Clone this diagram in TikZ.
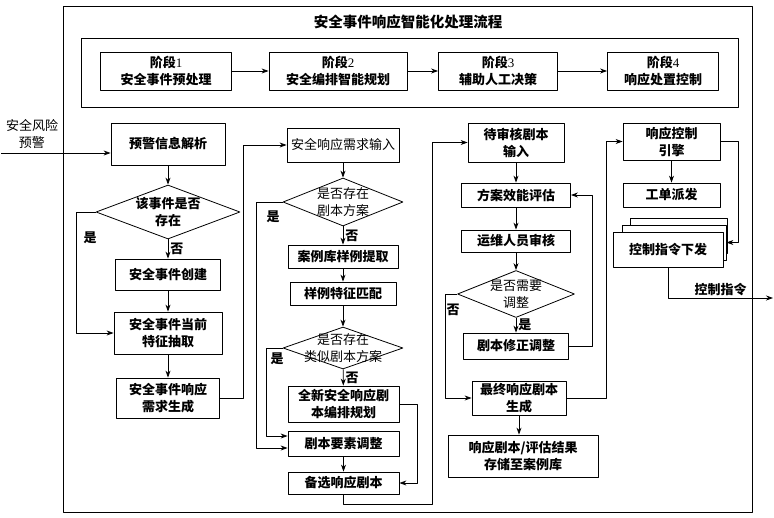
\documentclass[tikz,border=0pt]{standalone}
\usepackage{fontspec}
\setmainfont{Noto Sans CJK SC}
\newfontfamily\latin{Liberation Serif}
\usetikzlibrary{shapes.geometric,arrows.meta}
\begin{document}
\begin{tikzpicture}[x=1pt,y=-1pt,line join=round,>={Stealth[length=7pt,width=5pt]},line width=0.8pt]
 \tikzset{box/.style={draw,fill=white,align=center,inner sep=1pt,font=\fontsize{13pt}{17pt}\selectfont\bfseries},
  plain/.style={box,font=\fontsize{13pt}{17pt}\selectfont},
  dia/.style={diamond,draw,fill=white,inner sep=0pt},
  txt/.style={align=center,font=\fontsize{13pt}{17pt}\selectfont},
  yn/.style={font=\fontsize{13pt}{15pt}\selectfont\bfseries,inner sep=2pt}}
 \useasboundingbox (0,0) rectangle (774,517);
 \draw (63,6) rectangle (752,512);
 \draw (81,38) rectangle (738,107);
 \node[font=\fontsize{14.5pt}{17pt}\selectfont\bfseries] (title) at (408,22) {安全事件响应智能化处理流程};
 % stages
 \node[box,minimum width=131pt,minimum height=38pt] (s1) at (166,71) {阶段{\latin\mdseries 1}\\安全事件预处理};
 \node[box,minimum width=138pt,minimum height=38pt] (s2) at (338,71) {阶段{\latin\mdseries 2}\\安全编排智能规划};
 \node[box,minimum width=119pt,minimum height=38pt] (s3) at (498,71) {阶段{\latin\mdseries 3}\\辅助人工决策};
 \node[box,minimum width=111pt,minimum height=38pt] (s4) at (663,71) {阶段{\latin\mdseries 4}\\响应处置控制};
 \draw[->] (s1) -- (s2);
 \draw[->] (s2) -- (s3);
 \draw[->] (s3) -- (s4);
 % stage 1
 \node[txt] (risk) at (32,134) {安全风险\\预警};
 \coordinate (in) at (1,153);
 \node[box,minimum width=114pt,minimum height=42pt] (warn) at (168,144) {预警信息解析};
 \node[dia,minimum width=144pt,minimum height=54pt,label={[txt,font=\fontsize{13pt}{17pt}\selectfont\bfseries]center:{该事件是否\\存在}}] (q1) at (168,212) {};
 \node[box,minimum width=105pt,minimum height=31pt] (create) at (168,274.5) {安全事件创建};
 \node[box,minimum width=108pt,minimum height=42pt] (feat) at (168,333) {安全事件当前\\特征抽取};
 \node[box,minimum width=103pt,minimum height=40pt] (need) at (168,398) {安全事件响应\\需求生成};
 \node[yn] (yes1) at (90,238) {是};
 \draw[->] (in) -- (in -| warn.west);
 \draw[->] (warn) -- (q1);
 \draw[->] (q1) -- (create) node[yn,midway,right] {否};
 \draw[->] (create) -- (feat);
 \draw[->] (q1.west) -- ++(-19,0) |- (feat);
 \draw[->] (feat) -- (need);
 % stage 2
 \node[plain,minimum width=112pt,minimum height=34pt] (input) at (343,145) {安全响应需求输入};
 \node[dia,minimum width=120pt,minimum height=48pt,label={[txt]center:{是否存在\\剧本方案}}] (q2) at (343,202) {};
 \node[box,minimum width=110pt,minimum height=23pt] (fetch) at (343,256.5) {案例库样例提取};
 \node[box,minimum width=106pt,minimum height=23pt] (match) at (343,293.5) {样例特征匹配};
 \node[dia,minimum width=120pt,minimum height=42pt,label={[txt]center:{是否存在\\类似剧本方案}}] (q3) at (343,348) {};
 \node[box,minimum width=111pt,minimum height=36pt] (plan) at (343.5,404) {全新安全响应剧\\本编排规划};
 \node[box,minimum width=111pt,minimum height=25pt] (adjust) at (343.5,443.5) {剧本要素调整};
 \node[box,minimum width=111pt,minimum height=22pt] (cand) at (343.5,483) {备选响应剧本};
 \node[yn] (yes2) at (273,217) {是};
 \node[yn] (yes3) at (277,359) {是};
 \draw[->] (need.east) -- ++(23,0) |- (input);
 \draw[->] (input) -- (q2);
 \draw[->] (q2) -- (fetch) node[yn,midway,right] {否};
 \draw[->] (fetch) -- (match);
 \draw[->] (match) -- (q3);
 \draw[->] (q3) -- (plan) node[yn,midway,right] {否};
 \draw[->] (q2.west) -- ++(-26,0) |- ([yshift=-4.5pt]adjust.west);
 \draw[->] (q3.west) -- ++(-16,0) |- ([yshift=7.5pt]adjust.west);
 \draw[->] (adjust) -- (cand);
 \draw[->] (plan.east) -- ++(18,0) |- (cand);
 % stage 3
 \node[box,minimum width=96pt,minimum height=39pt] (review) at (516,142.5) {待审核剧本\\输入};
 \node[box,minimum width=109pt,minimum height=24pt] (eval) at (516,195) {方案效能评估};
 \node[box,minimum width=109pt,minimum height=22pt] (audit) at (516,241) {运维人员审核};
 \node[dia,minimum width=117pt,minimum height=47pt,label={[txt]center:{是否需要\\调整}}] (q4) at (516,294) {};
 \node[box,minimum width=105pt,minimum height=26pt] (fix) at (516,346) {剧本修正调整};
 \node[box,minimum width=94pt,minimum height=34pt] (final) at (519,398) {最终响应剧本\\生成};
 \node[box,minimum width=150pt,minimum height=42pt] (store) at (523,456) {响应剧本/评估结果\\存储至案例库};
 \node[yn] (no4) at (453,310) {否};
 \draw[->] (cand.south) |- ++(88.5,10) |- (review);
 \draw[->] (review) -- (eval);
 \draw[->] (eval) -- (audit);
 \draw[->] (audit) -- (q4);
 \draw[->] (q4) -- (fix) node[yn,midway,right] {是};
 \draw[->] (fix.east) -- ++(23,0) |- (eval);
 \draw[->] (q4.west) -- ++(-12,0) |- (final);
 \draw[->] (final) -- (final |- store.north);
 % stage 4
 \node[box,minimum width=97pt,minimum height=37pt] (engine) at (671.5,141.5) {响应控制\\引擎};
 \node[box,minimum width=97pt,minimum height=24pt] (order) at (671.5,195) {工单派发};
 \node[box,minimum width=97pt,minimum height=35pt] (cmd3) at (678.5,235.5) {};
 \node[box,minimum width=104pt,minimum height=35pt] (cmd2) at (674,242.5) {};
 \node[box,minimum width=110pt,minimum height=35pt] (cmd) at (668,249.5) {控制指令下发};
 \coordinate (out) at (773,298);
 \draw[->] (final.east) -- ++(40,0) |- (engine);
 \draw[->] (engine) -- (order);
 \draw[->] (engine.east) -- ++(18,0) |- (cmd2);
 \draw[->] (cmd) |- (out) node[yn,pos=0.75,above] {控制指令};
\end{tikzpicture}
\end{document}
